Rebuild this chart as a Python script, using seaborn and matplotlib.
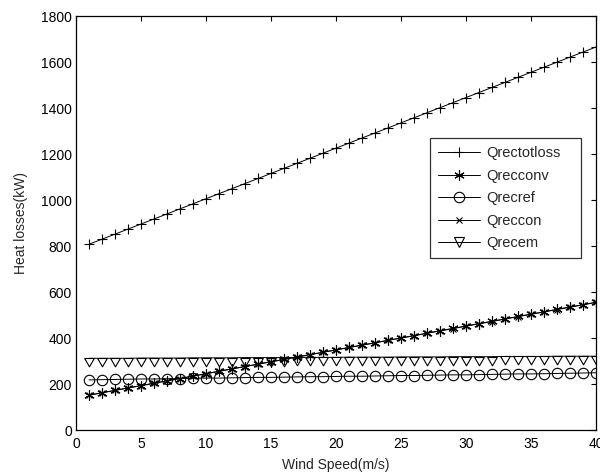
import numpy as np
import pandas as pd
import seaborn as sns
import matplotlib.pyplot as plt

# --- dados ---
wind_speed = list(range(1, 41))

q_rectotloss = [808, 830, 852, 874, 896, 918, 940, 962, 984, 1006,
                1028, 1050, 1072, 1094, 1116, 1138, 1160, 1182, 1204, 1226,
                1248, 1270, 1292, 1314, 1336, 1358, 1380, 1402, 1424, 1446,
                1468, 1490, 1512, 1534, 1556, 1578, 1600, 1622, 1644, 1666]

q_recconv = [152, 162, 173, 183, 193, 204, 214, 224, 235, 245,
             256, 266, 276, 287, 297, 307, 318, 328, 338, 349,
             359, 369, 380, 390, 400, 411, 421, 432, 442, 452,
             463, 473, 483, 494, 504, 514, 525, 535, 545, 556]

q_recref = [218, 219, 220, 221, 222, 222, 223, 224, 225, 226,
            226, 227, 228, 229, 229, 230, 231, 232, 232, 233,
            234, 234, 235, 236, 237, 237, 238, 239, 240, 240,
            241, 242, 243, 244, 244, 245, 246, 247, 248, 249]

q_reccon = [151, 162, 172, 183, 193, 203, 214, 224, 234, 245,
            255, 266, 276, 286, 297, 307, 317, 328, 338, 348,
            359, 369, 379, 390, 400, 410, 421, 431, 441, 452,
            462, 472, 483, 493, 503, 514, 524, 534, 545, 555]

q_recem = [312, 312, 312, 312, 313, 313, 313, 313, 314, 314,
           314, 314, 315, 315, 315, 315, 316, 316, 316, 316,
           317, 317, 317, 317, 318, 318, 318, 318, 319, 319,
           319, 319, 320, 320, 320, 320, 321, 321, 321, 321]

series_names = ['Qrectotloss', 'Qrecconv', 'Qrecref', 'Qreccon', 'Qrecem']
series_values = [q_rectotloss, q_recconv, q_recref, q_reccon, q_recem]

# --- estilo visual (tipo MATLAB) ---
sns.set_style("white")
plt.rcParams['font.family'] = ['Liberation Sans', 'DejaVu Sans']
plt.rcParams.update({'font.size': 10, 'axes.linewidth': 0.9,
                     'xtick.direction': 'in', 'ytick.direction': 'in',
                     'xtick.top': True, 'ytick.right': True,
                     'xtick.major.size': 3.5, 'ytick.major.size': 3.5,
                     'xtick.major.width': 0.8, 'ytick.major.width': 0.8,
                     'xtick.color': 'black', 'ytick.color': 'black',
                     'axes.edgecolor': 'black'})

# triangulo com o topo no ponto (como no original)
tri_down = [(-0.58, 0.0), (0.58, 0.0), (0.0, -1.0), (-0.58, 0.0)]

styles = {
    'Qrectotloss': dict(marker='+', markersize=7.5),
    'Qrecconv': dict(marker=(6, 2, 0), markersize=7.5),
    'Qrecref': dict(marker='o', markersize=7.5, markerfacecolor='none'),
    'Qreccon': dict(marker='x', markersize=5),
    'Qrecem': dict(marker=tri_down, markersize=12, markerfacecolor='none'),
}

df = pd.DataFrame({'Wind': wind_speed})
for name, vals in zip(series_names, series_values):
    df[name] = vals

fig = plt.figure(figsize=(6.0, 4.76), dpi=100)
ax = fig.add_axes([0.1267, 0.0966, 0.8666, 0.8694])

for name in series_names:
    sns.lineplot(data=df, x='Wind', y=name, ax=ax, color='black',
                 linewidth=0.7, markeredgecolor='black', markeredgewidth=0.8,
                 label=name, **styles[name])

ax.set_xlim(0, 40)
ax.set_ylim(0, 1800)
ax.set_xticks(np.arange(0, 41, 5))
ax.set_yticks(np.arange(0, 1801, 200))
ax.tick_params(axis='x', labelsize=10, pad=5)
ax.tick_params(axis='y', labelsize=10, pad=3)
ax.set_xlabel('Wind Speed(m/s)', fontsize=10, labelpad=5)
ax.set_ylabel('Heat losses(kW)', fontsize=10, labelpad=9)

leg = ax.legend(loc='upper left', bbox_to_anchor=(0.681, 0.415, 0.29, 0.29),
                mode='expand', fontsize=10.5, frameon=True, fancybox=False,
                edgecolor='black', handlelength=2.9, labelspacing=0.58,
                borderpad=0.55, handletextpad=0.4, borderaxespad=0)
leg.get_frame().set_linewidth(0.9)
# no quadro da legenda o triangulo fica centrado na linha
leg.legend_handles[4].set_marker('v')
leg.legend_handles[4].set_markersize(7.5)

fig.savefig('out.png', dpi=100)
